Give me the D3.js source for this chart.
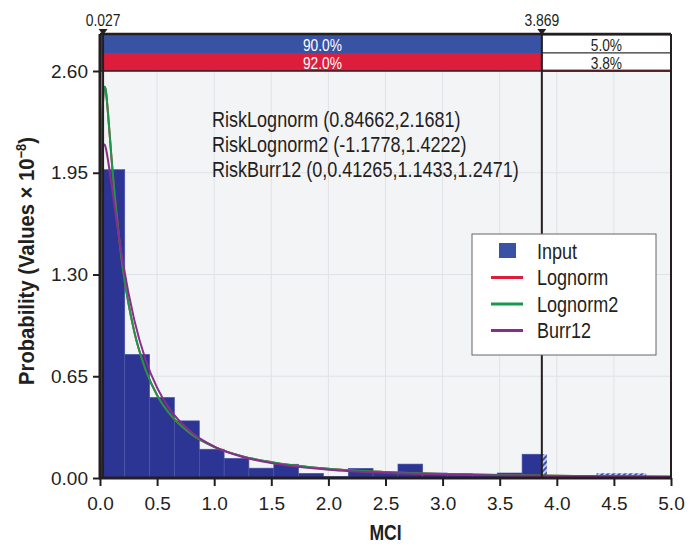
<!DOCTYPE html>
<html>
<head>
<meta charset="utf-8">
<script src="https://cdn.jsdelivr.net/npm/d3@7"></script>
<style>
  body { margin: 0; background: #fff; }
  svg { display: block; }
  text { font-family: "Liberation Sans", Arial, sans-serif; }
</style>
</head>
<body>
<div id="chart"></div>
<script>
// histogram bins (MCI) en hoogtes (x 10^-8)
const binEdges = [0, 0.217, 0.435, 0.652, 0.870, 1.087, 1.304, 1.522, 1.739, 1.957, 2.174, 2.391,
  2.609, 2.826, 3.043, 3.261, 3.478, 3.696, 3.913, 4.130, 4.348, 4.565, 4.783, 5.0];
const binValues = [1.97, 0.79, 0.515, 0.365, 0.184, 0.126, 0.063, 0.088, 0.030, 0.010, 0.062, 0.037,
  0.089, 0.032, 0.027, 0.020, 0.032, 0.152, 0.008, 0.008, 0.030, 0.030, 0.006];

const curveX = [0.001, 0.002, 0.005, 0.01, 0.02, 0.03, 0.04, 0.05, 0.07, 0.1, 0.15, 0.2, 0.3, 0.4,
  0.5, 0.6, 0.8, 1.0, 1.25, 1.5, 2.0, 2.5, 3.0, 3.5, 4.0, 4.5, 5.0];
const lognormY = [0.08, 0.27, 0.84, 1.54, 2.21, 2.45, 2.50, 2.48, 2.33, 2.05, 1.65, 1.34, 0.935, 0.690,
  0.529, 0.419, 0.280, 0.199, 0.138, 0.101, 0.059, 0.038, 0.026, 0.0186, 0.0138, 0.0105, 0.0082];
const lognorm2Y = [0.08, 0.27, 0.84, 1.54, 2.21, 2.45, 2.50, 2.48, 2.33, 2.05, 1.65, 1.34, 0.935, 0.690,
  0.529, 0.419, 0.280, 0.199, 0.138, 0.101, 0.059, 0.038, 0.026, 0.0186, 0.0138, 0.0105, 0.0082];
const burr12Y = [1.46, 1.60, 1.81, 1.96, 2.09, 2.13, 2.13, 2.11, 2.03, 1.88, 1.62, 1.38, 1.01, 0.754,
  0.577, 0.451, 0.292, 0.201, 0.1345, 0.095, 0.0533, 0.0334, 0.0225, 0.016, 0.0119, 0.0091, 0.0072];

const xTicks = [0, 0.5, 1, 1.5, 2, 2.5, 3, 3.5, 4, 4.5, 5];
const yTicks = [0, 0.65, 1.30, 1.95, 2.60];

const markers = [0.027, 3.869];
const inputPct = ["90.0%", "5.0%"];
const fitPct = ["92.0%", "3.8%"];

const fitLabels = ["RiskLognorm (0.84662,2.1681)", "RiskLognorm2 (-1.1778,1.4222)", "RiskBurr12 (0,0.41265,1.1433,1.2471)"];
const legendNames = ["Input", "Lognorm", "Lognorm2", "Burr12"];
const legendColors = ["#3953a4", "#dc1e3c", "#17994a", "#8a2c8c"];

const W = 695, H = 544;
const pLeft = 100, pRight = 671, pTop = 71, pBottom = 478, headTop = 34;
const dark = "#231f20";
const nx = 0.82; // smaller letters, geen narrow font aanwezig

const svg = d3.select("#chart").append("svg")
  .attr("width", W).attr("height", H);

const x = d3.scaleLinear().domain([0, 5]).range([pLeft, pRight]);
const y = d3.scaleLinear().domain([0, 2.6]).range([pBottom, pTop]);

// tekst met horizontale schaal (condensed look)
function ntext(parent, px, py, str, size, opts = {}) {
  const g = parent.append("g")
    .attr("transform", `translate(${px},${py}) ${opts.rot ? "rotate(" + opts.rot + ")" : ""} scale(${opts.sx || nx},1)`);
  return g.append("text")
    .attr("text-anchor", opts.anchor || "start")
    .attr("dy", opts.dy || 0)
    .attr("font-size", size)
    .attr("font-weight", opts.bold ? "bold" : null)
    .attr("fill", opts.fill || dark)
    .text(str);
}

const defs = svg.append("defs");
defs.append("clipPath").attr("id", "plotclip")
  .append("rect").attr("x", pLeft).attr("y", pTop).attr("width", pRight - pLeft).attr("height", pBottom - pTop);
const pat = defs.append("pattern").attr("id", "hatch")
  .attr("patternUnits", "userSpaceOnUse").attr("width", 4).attr("height", 4)
  .attr("patternTransform", "rotate(45)");
pat.append("rect").attr("width", 4).attr("height", 4).attr("fill", "#c3cbea");
pat.append("rect").attr("width", 2).attr("height", 4).attr("fill", "#3a4fae");

// achtergrond plot
svg.append("rect")
  .attr("x", pLeft).attr("y", pTop).attr("width", pRight - pLeft).attr("height", pBottom - pTop)
  .attr("fill", "#f3f4f6");
svg.append("rect")
  .attr("x", x(0)).attr("y", pTop).attr("width", x(markers[0]) - x(0)).attr("height", pBottom - pTop)
  .attr("fill", "#cfd0d3");

// grid
svg.append("g").selectAll("line").data(xTicks.slice(1, -1)).join("line")
  .attr("x1", d => x(d)).attr("x2", d => x(d)).attr("y1", pTop).attr("y2", pBottom)
  .attr("stroke", "#e0e2e6").attr("stroke-width", 1);
svg.append("g").selectAll("line").data(yTicks.slice(1, -1)).join("line")
  .attr("x1", pLeft).attr("x2", pRight).attr("y1", d => y(d)).attr("y2", d => y(d))
  .attr("stroke", "#e0e2e6").attr("stroke-width", 1);

// histogram, delen rechts van de marker gearceerd
const bins = binValues.map((v, i) => ({ x0: binEdges[i], x1: binEdges[i + 1], v: v }));
const segs = [];
bins.forEach(b => {
  const cut = markers[1];
  if (b.x1 <= cut) segs.push({ x0: b.x0, x1: b.x1, v: b.v, h: false });
  else if (b.x0 >= cut) segs.push({ x0: b.x0, x1: b.x1, v: b.v, h: true });
  else {
    segs.push({ x0: b.x0, x1: cut, v: b.v, h: false });
    segs.push({ x0: cut, x1: b.x1, v: b.v, h: true });
  }
});
const plot = svg.append("g").attr("clip-path", "url(#plotclip)");
plot.selectAll("rect.bar").data(segs).join("rect")
  .attr("class", "bar")
  .attr("x", d => x(d.x0)).attr("width", d => x(d.x1) - x(d.x0))
  .attr("y", d => y(d.v)).attr("height", d => y(0) - y(d.v))
  .attr("fill", d => d.h ? "url(#hatch)" : "#2d3594")
  .attr("stroke", d => d.h ? "none" : "#4a56a8").attr("stroke-width", 0.6);

// curves
const series = [
  { vals: lognormY, color: legendColors[1] },
  { vals: lognorm2Y, color: legendColors[2] },
  { vals: burr12Y, color: legendColors[3] }
];
const line = d3.line()
  .x((d, i) => x(curveX[i]))
  .y(d => y(d))
  .curve(d3.curveMonotoneX);
plot.selectAll("path.fit").data(series).join("path")
  .attr("class", "fit")
  .attr("d", d => line(d.vals))
  .attr("fill", "none").attr("stroke", d => d.color).attr("stroke-width", 2);

// header balken
const head = svg.append("g");
head.append("rect").attr("x", x(0)).attr("y", headTop + 1).attr("width", x(markers[1]) - x(0)).attr("height", 18)
  .attr("fill", "#3953a4");
head.append("rect").attr("x", x(0)).attr("y", headTop + 19).attr("width", x(markers[1]) - x(0)).attr("height", 18)
  .attr("fill", "#dc1e3c");
head.append("rect").attr("x", x(markers[1])).attr("y", headTop + 1).attr("width", pRight - x(markers[1])).attr("height", 18)
  .attr("fill", "#fff").attr("stroke", "#333").attr("stroke-width", 1);
head.append("rect").attr("x", x(markers[1])).attr("y", headTop + 19).attr("width", pRight - x(markers[1])).attr("height", 18)
  .attr("fill", "#fff").attr("stroke", "#333").attr("stroke-width", 1);
head.append("line").attr("x1", x(markers[1])).attr("x2", pRight).attr("y1", pTop - 0.5).attr("y2", pTop - 0.5)
  .attr("stroke", "#dc1e3c").attr("stroke-width", 2);

const midL = (x(markers[0]) + x(markers[1])) / 2, midR = (x(markers[1]) + pRight) / 2;
ntext(head, midL, 50.5, inputPct[0], 16, { anchor: "middle", fill: "#fff", sx: 0.86 });
ntext(head, midL, 68.5, fitPct[0], 16, { anchor: "middle", fill: "#fff", sx: 0.86 });
ntext(head, midR, 50.5, inputPct[1], 16, { anchor: "middle", sx: 0.86 });
ntext(head, midR, 68.5, fitPct[1], 16, { anchor: "middle", sx: 0.86 });

// frame
svg.append("line").attr("x1", pLeft).attr("x2", pRight).attr("y1", headTop).attr("y2", headTop)
  .attr("stroke", dark).attr("stroke-width", 2.5);
svg.append("line").attr("x1", pLeft).attr("x2", pRight).attr("y1", pTop).attr("y2", pTop)
  .attr("stroke", dark).attr("stroke-width", 1.5);
svg.append("line").attr("x1", pRight).attr("x2", pRight).attr("y1", headTop).attr("y2", pBottom)
  .attr("stroke", dark).attr("stroke-width", 2);

// marker lijnen
const mk = svg.append("g");
mk.selectAll("line").data(markers).join("line")
  .attr("x1", d => x(d)).attr("x2", d => x(d)).attr("y1", headTop - 2).attr("y2", pBottom)
  .attr("stroke", dark).attr("stroke-width", 2);
mk.selectAll("path").data(markers).join("path")
  .attr("d", d => `M${x(d) - 4.5},${headTop - 5}L${x(d) + 4.5},${headTop - 5}L${x(d)},${headTop + 1}Z`)
  .attr("fill", dark);
markers.forEach(m => ntext(mk, x(m), 26, d3.format(".3f")(m), 17, { anchor: "middle" }));

// assen
const xAxis = svg.append("g").attr("transform", `translate(0,${pBottom})`)
  .call(d3.axisBottom(x).tickValues(xTicks).tickFormat(d3.format(".1f")).tickSize(8).tickPadding(11));
const yAxis = svg.append("g").attr("transform", `translate(${pLeft},0)`)
  .call(d3.axisLeft(y).tickValues(yTicks).tickFormat(d3.format(".2f")).tickSize(7).tickPadding(5));
[xAxis, yAxis].forEach(g => {
  g.select(".domain").remove();
  g.selectAll(".tick line").attr("stroke", dark).attr("stroke-width", 2);
  g.selectAll(".tick text").attr("fill", dark)
    .style("font-family", "'Liberation Sans', Arial, sans-serif").style("font-size", "19px");
});
svg.append("line").attr("x1", pLeft - 1).attr("x2", pRight + 1).attr("y1", pBottom).attr("y2", pBottom)
  .attr("stroke", dark).attr("stroke-width", 3);
svg.append("line").attr("x1", pLeft).attr("x2", pLeft).attr("y1", headTop).attr("y2", pBottom + 1)
  .attr("stroke", dark).attr("stroke-width", 3);

// as titels
ntext(svg, (pLeft + pRight) / 2, 540, "MCI", 22, { anchor: "middle", bold: true, sx: 0.8 });
const yt = ntext(svg, 34, 261, "", 22, { anchor: "middle", bold: true, rot: -90, sx: 0.92 });
yt.append("tspan").text("Probability (Values \u00d7 10");
yt.append("tspan").attr("dy", -8).attr("font-size", 14).text("\u22128");
yt.append("tspan").attr("dy", 8).text(")");

// fit tekst
fitLabels.forEach((t, i) => ntext(svg, 212, 126.5 + i * 25, t, 22));

// legenda
const lg = svg.append("g").attr("transform", "translate(472,234)");
lg.append("rect").attr("width", 184).attr("height", 121).attr("fill", "#fff")
  .attr("stroke", "#666").attr("stroke-width", 1);
const items = lg.selectAll("g.item").data(legendNames).join("g")
  .attr("class", "item")
  .attr("transform", (d, i) => `translate(0,${17 + i * 26.5})`);
items.filter((d, i) => i === 0).append("rect")
  .attr("x", 27).attr("y", -8).attr("width", 17).attr("height", 15).attr("fill", legendColors[0]);
items.filter((d, i) => i > 0).append("line")
  .attr("x1", 19).attr("x2", 51).attr("y1", 0).attr("y2", 0)
  .attr("stroke", (d, i) => legendColors[i + 1]).attr("stroke-width", 3);
items.each(function (d) {
  ntext(d3.select(this), 65, 0, d, 22, { dy: "0.35em" });
});
</script>
</body>
</html>
